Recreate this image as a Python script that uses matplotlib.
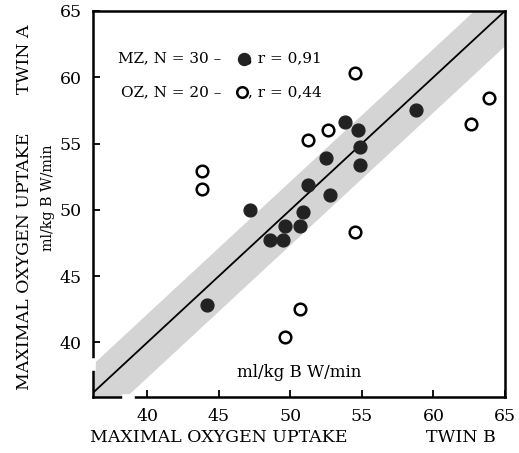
import numpy as np
import matplotlib.pyplot as plt

# MZ twins (filled): twin B, twin A
mz_b = [44.2, 47.2, 48.6, 49.5, 49.6, 50.7, 50.9, 51.2, 52.8, 52.5, 53.8, 54.7, 54.9, 54.9, 58.8]
mz_a = [42.8, 50.0, 47.7, 47.7, 48.8, 48.8, 49.8, 51.9, 51.1, 53.9, 56.6, 56.0, 54.7, 53.4, 57.5]

# OZ twins (open)
oz_b = [43.8, 43.8, 51.2, 52.6, 54.5, 54.5, 62.6, 63.9, 50.7, 49.6]
oz_a = [52.9, 51.6, 55.3, 56.0, 48.3, 60.3, 56.5, 58.4, 42.5, 40.4]

ticks = [40, 45, 50, 55, 60, 65]
band_up, band_lo = 2.2, 2.6

plt.rcParams['font.family'] = ['DejaVu Serif']

fig = plt.figure(figsize=(5.19, 4.53), dpi=100)
ax = fig.add_axes([0.179, 0.124, 0.794, 0.852])

xmin, xmax = 36.2, 65
ymin, ymax = 35.9, 65
xs = np.array([xmin, xmax])
ax.fill_between(xs, xs - band_lo, xs + band_up, color='#d4d4d4', lw=0, zorder=1)
ax.plot(xs, xs, color='black', lw=1.3, zorder=2)

ax.scatter(mz_b, mz_a, s=85, c='#222222', edgecolors='#222222', zorder=3)
ax.scatter(oz_b, oz_a, s=70, facecolors='white', edgecolors='black', linewidths=1.8, zorder=3)

ax.set_xlim(xmin, xmax)
ax.set_ylim(ymin, ymax)
ax.set_xticks(ticks)
ax.set_yticks(ticks)
ax.tick_params(direction='in', length=5, width=1.3, labelsize=12.5, pad=8)
for sp in ax.spines.values():
    sp.set_linewidth(1.8)

# axis breaks
ax.plot([0, 0], [0.075, 0.092], transform=ax.transAxes, color='white', lw=4, clip_on=False, zorder=5)
ax.plot([0.078, 0.094], [0, 0], transform=ax.transAxes, color='white', lw=4, clip_on=False, zorder=5)

# legend text
ax.text(0.311, 0.876, 'MZ, N = 30 –', transform=ax.transAxes, fontsize=11, ha='right', va='center')
ax.plot([0.366], [0.876], 'o', ms=8.6, color='#222222', transform=ax.transAxes)
ax.text(0.376, 0.876, ', r = 0,91', transform=ax.transAxes, fontsize=11, va='center')
ax.text(0.311, 0.790, 'OZ, N = 20 –', transform=ax.transAxes, fontsize=11, ha='right', va='center')
ax.plot([0.361], [0.790], 'o', ms=7.6, mfc='white', mec='black', mew=1.8, transform=ax.transAxes)
ax.text(0.376, 0.790, ', r = 0,44', transform=ax.transAxes, fontsize=11, va='center')

ax.text(0.50, 0.062, 'ml/kg B W/min', transform=ax.transAxes, fontsize=12, ha='center', va='center')

# outer labels
fig.text(0.174, 0.035, 'MAXIMAL OXYGEN UPTAKE', fontsize=12.5, ha='left', va='center')
fig.text(0.955, 0.035, 'TWIN B', fontsize=12.5, ha='right', va='center')
fig.text(0.048, 0.945, 'TWIN A', fontsize=12.5, rotation=90, ha='center', va='top')
fig.text(0.048, 0.14, 'MAXIMAL OXYGEN UPTAKE', fontsize=12.5, rotation=90, ha='center', va='bottom')
fig.text(0.092, 0.68, 'ml/kg B W/min', fontsize=10.3, rotation=90, ha='center', va='top')

fig.savefig('out.png', dpi=100)
